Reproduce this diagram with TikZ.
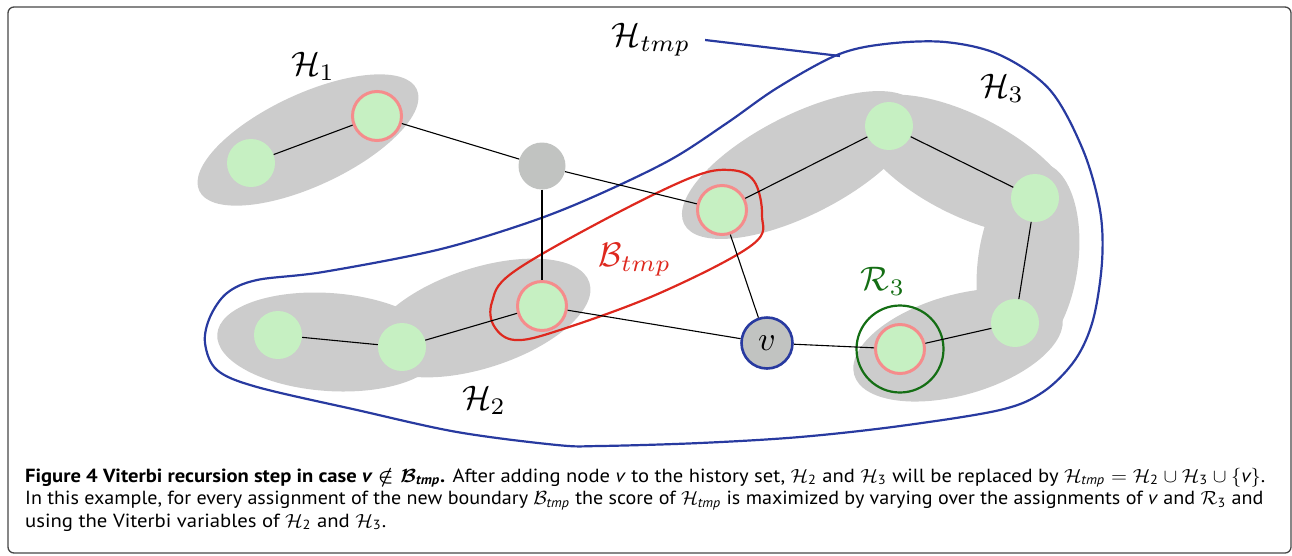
\documentclass[tikz,border=0pt]{standalone}
\usepackage{amsmath}
\usepackage{fontspec}
\setmainfont{PT Sans}
\usepackage{graphicx}
\definecolor{ngreen}{RGB}{198,240,194}
\definecolor{npink}{RGB}{245,140,140}
\definecolor{ngray}{RGB}{193,195,193}
\definecolor{blobc}{RGB}{204,204,204}
\definecolor{vblue}{RGB}{40,58,160}
\definecolor{bred}{RGB}{222,40,30}
\definecolor{rgreen}{RGB}{20,110,20}
\definecolor{framec}{RGB}{70,70,70}
\newcommand{\tsub}[1]{\text{\itshape #1}}
\begin{document}
\begin{tikzpicture}[x=1pt,y=-1pt,
  blob/.style={fill=blobc},
  gnode/.style={circle,fill=ngreen,minimum size=48pt,inner sep=0pt},
  pnode/.style={circle,fill=ngreen,draw=npink,line width=3pt,minimum size=49pt,inner sep=0pt},
  graynode/.style={circle,fill=ngray,minimum size=47pt,inner sep=0pt},
  vnode/.style={circle,fill=ngray,draw=vblue,line width=2.6pt,minimum size=51pt,inner sep=0pt},
  edge/.style={draw=black,line width=1.1pt},
  lab/.style={inner sep=0pt,font=\fontsize{10}{10}\selectfont,scale=3.4},
  bluec/.style={draw=vblue,line width=2.2pt},
  capline/.style={anchor=base west,inner sep=0pt}
]
\useasboundingbox (0,0) rectangle (1292,555);
\draw[framec,line width=1.3pt,rounded corners=6pt] (8,7) rectangle (1291,553);

% gray history regions
\fill[blob,rotate around={25:(308,140)}] (308,140) ellipse [x radius=120,y radius=46];
\fill[blob,rotate around={-4:(329,342)}] (329,342) ellipse [x radius=112,y radius=49];
\fill[blob,rotate around={18:(480,318)}] (480,318) ellipse [x radius=115,y radius=50];
\fill[blob,rotate around={27:(800,165)}] (800,165) ellipse [x radius=130,y radius=50];
\fill[blob,rotate around={-27:(965,165)}] (965,165) ellipse [x radius=120,y radius=50];
\fill[blob,rotate around={-8:(1028,262)}] (1028,262) ellipse [x radius=50,y radius=100];
\fill[blob,rotate around={16:(958,345)}] (958,345) ellipse [x radius=108,y radius=50];

% H_tmp contour
\draw[bluec] plot[smooth cycle,tension=0.55] coordinates {
 (837,55) (885,44) (945,42) (1000,55) (1050,90) (1083,150) (1100,210) (1102,262)
 (1093,320) (1075,360) (1043,392) (1000,410) (900,426) (800,437) (700,443)
 (600,446) (557,445) (457,432) (357,410) (257,387) (217,370) (205,343) (210,317)
 (227,293) (257,280) (323,272) (437,250) (527,223) (593,197) (670,160) (727,123) (777,88)};
\coordinate (hc) at (840,56);

% B_tmp contour
\draw[draw=bred,line width=2.2pt] plot[smooth cycle,tension=0.6] coordinates {
 (492,302) (512,273) (600,222) (690,178) (730,170) (754,181) (762,215) (752,245)
 (660,293) (560,330) (515,340) (494,326)};

% R_3 circle
\draw[draw=rgreen,line width=2.2pt] (900,349) circle [radius=43.5];

% nodes
\node[gnode] (a1) at (251,163) {};
\node[pnode] (a2) at (377,116) {};
\node[graynode] (g) at (542,166) {};
\node[gnode] (b1) at (278,335) {};
\node[gnode] (b2) at (402,347) {};
\node[pnode] (b3) at (542,306) {};
\node[pnode] (c1) at (722,210) {};
\node[gnode] (c2) at (889,126) {};
\node[gnode] (c3) at (1035,198) {};
\node[gnode] (c4) at (1015,323) {};
\node[pnode] (r) at (900,349) {};
\node[vnode] (v) at (767,343) {};
\node[lab] (vl) at (v.center) {$v$};

% edges
\draw[edge] (a1) -- (a2);
\draw[edge] (a2) -- (g);
\draw[edge] (g) -- (c1);
\draw[edge] (g) -- (b3);
\draw[edge] (b1) -- (b2);
\draw[edge] (b2) -- (b3);
\draw[edge] (b3) -- (v);
\draw[edge] (c1) -- (v);
\draw[edge] (c1) -- (c2);
\draw[edge] (c2) -- (c3);
\draw[edge] (c3) -- (c4);
\draw[edge] (c4) -- (r);
\draw[edge] (v) -- (r);

% labels
\node[lab] (l1) at (313,66) {$\mathcal{H}_1$};
\node[lab] (l2) at (484,400) {$\mathcal{H}_2$};
\node[lab] (l3) at (1002,88) {$\mathcal{H}_3$};
\node[lab,text=bred] (lb) at (635,260) {$\mathcal{B}_{tmp}$};
\node[lab,text=rgreen] (lr) at (883,281) {$\mathcal{R}_3$};
\node[lab] (htmp) at (651,40) {$\mathcal{H}_{tmp}$};
\draw[bluec] ([xshift=14pt]htmp.east) -- (hc);

% caption
\node[capline] (cap1) at (25,482) {\resizebox{1240pt}{1.9\height}{\fontsize{10}{12}\selectfont\textbf{Figure 4 Viterbi recursion step in case \textit{v} $\boldsymbol{\notin\mathcal{B}}_{\text{\bfseries\itshape tmp}}$.} After adding node \textit{v} to the history set, $\mathcal{H}_{\text{2}}$ and $\mathcal{H}_{\text{3}}$ will be replaced by $\mathcal{H}_{\tsub{tmp}}=\mathcal{H}_{\text{2}}\cup\mathcal{H}_{\text{3}}\cup\{\text{\itshape v}\}$.}};
\node[capline] (cap2) at (25,504.5) {\resizebox{1238pt}{1.9\height}{\fontsize{10}{12}\selectfont In this example, for every assignment of the new boundary $\mathcal{B}_{\tsub{tmp}}$ the score of $\mathcal{H}_{\tsub{tmp}}$ is maximized by varying over the assignments of \textit{v} and $\mathcal{R}_{\text{3}}$ and}};
\node[capline] (cap3) at (25,527) {\resizebox{361pt}{1.9\height}{\fontsize{10}{12}\selectfont using the Viterbi variables of $\mathcal{H}_{\text{2}}$ and $\mathcal{H}_{\text{3}}$.}};
\end{tikzpicture}
\end{document}
